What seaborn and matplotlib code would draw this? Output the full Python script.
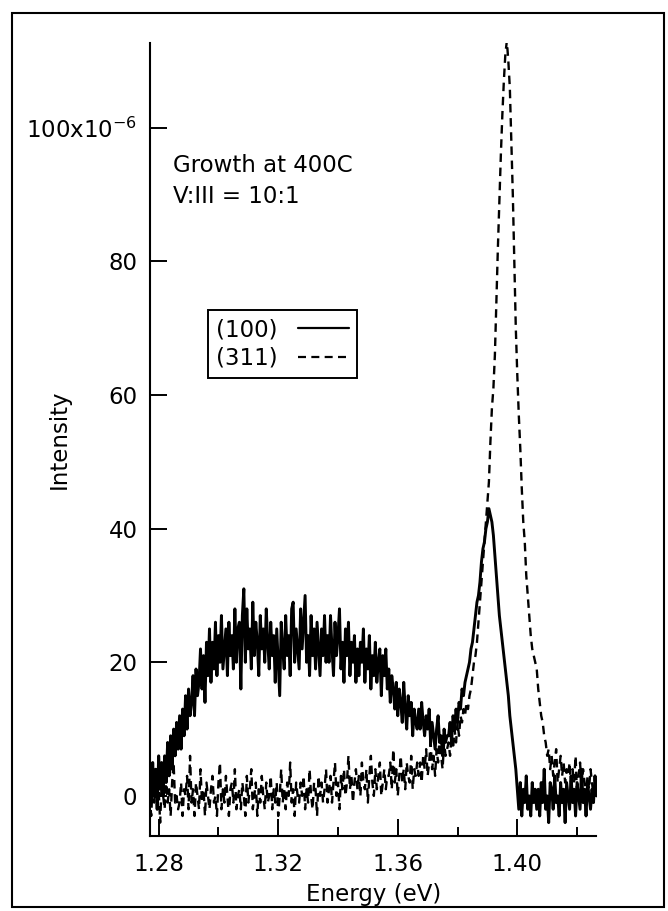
import numpy as np
import matplotlib
matplotlib.use("Agg")
import matplotlib.pyplot as plt
from matplotlib.patches import Rectangle
import seaborn as sns

# Photoluminescence spectra, intensity in units of 1e-6
# energy channels: 1.2770 eV to 1.4265 eV in 0.5 meV steps (300 channels)
energy = np.round(1.2770 + 0.0005 * np.arange(300), 4)

# (100) substrate, solid line (20 channels per row, 10 meV per row)
intensity_100 = [
    3, -1, 5, 0, 4, -2, 6, 1, 5, 0, 6, 2, 8, 3, 9, 4, 10, 6, 11, 7,
    12, 7, 13, 9, 15, 10, 16, 12, 14, 18, 12, 19, 15, 17, 22, 16, 21, 14, 23, 18,
    25, 17, 23, 19, 26, 18, 24, 20, 27, 19, 22, 25, 18, 26, 21, 24, 19, 28, 20, 25,
    26, 16, 27, 31, 20, 28, 22, 25, 19, 29, 21, 26, 23, 18, 27, 22, 25, 20, 28, 23,
    19, 26, 21, 24, 17, 25, 20, 15, 26, 22, 19, 27, 21, 24, 18, 28, 29, 20, 25, 22,
    19, 28, 22, 26, 30, 20, 24, 18, 27, 21, 25, 19, 26, 22, 18, 25, 21, 27, 20, 24,
    20, 27, 22, 18, 26, 21, 24, 28, 19, 23, 17, 25, 21, 26, 18, 23, 20, 24, 17, 22,
    18, 23, 20, 25, 17, 22, 19, 24, 16, 21, 18, 23, 17, 20, 22, 15, 21, 18, 22, 16,
    19, 14, 18, 16, 13, 17, 12, 16, 14, 11, 17, 13, 10, 15, 12, 14, 9, 13, 11, 10,
    13, 10, 14, 11, 9, 12, 10, 13, 8, 11, 9, 7, 10, 12, 8, 9, 6, 10, 8, 9,
    9, 11, 8, 12, 10, 13, 11, 14, 13, 16, 15, 17, 18, 19, 20, 22, 23, 25, 27, 29,
    30, 32, 35, 37, 38, 40, 41, 43, 42, 41, 39, 36, 33, 30, 27, 25, 23, 21, 19, 17,
    15, 12, 10, 8, 6, 4, 1, -2, 2, -3, 1, -1, 3, -2, 0, -3, 2, -1, 1, -2,
    1, -3, 2, -1, 4, -2, 0, -4, 2, 1, -2, 3, -1, 0, -3, 2, -1, 1, -4, 2,
    0, -2, 3, -1, 1, -3, 2, 0, -2, 4, -1, 1, -3, 2, 0, -2, 1, -1, 3, 0,
]

# (311) substrate, dashed line
intensity_311 = [
    0, -3, 2, -1, 4, -2, 1, -4, 2, 0, -2, 3, -1, 1, -3, 2, 5, -1, 0, -2,
    -1, 2, -3, 1, 0, 3, -2, 6, -1, 1, -3, 2, 0, -2, 4, -1, 1, -3, 2, 0,
    -2, 1, 3, -1, 0, -3, 2, 5, -2, 1, -1, 3, 0, -3, 1, 2, -1, 4, -2, 0,
    1, -2, 2, 0, -3, 3, -1, 1, 4, -2, 0, 2, -3, 1, -1, 3, 0, -2, 2, -1,
    0, 3, -2, 1, -1, 2, -3, 0, 4, -1, 1, -2, 2, 0, 5, -1, 1, -3, 2, 0,
    -1, 2, 0, 3, -2, 1, -1, 4, 0, -2, 2, 1, -3, 3, 0, 2, -1, 1, 4, -1,
    1, 3, -1, 2, 5, 0, 2, -2, 3, 1, 4, 0, 2, 6, 1, 3, -1, 2, 4, 1,
    3, 0, 5, 2, 1, 4, -1, 3, 6, 2, 0, 4, 1, 3, 5, 0, 2, 4, 1, 3,
    3, 5, 1, 7, 2, 4, 0, 3, 6, 2, 4, 1, 5, 3, 2, 6, 1, 4, 3, 5,
    3, 5, 2, 6, 4, 7, 3, 5, 8, 4, 6, 3, 7, 5, 9, 6, 4, 8, 6, 7,
    8, 6, 9, 7, 10, 8, 11, 9, 12, 11, 13, 12, 14, 13, 15, 16, 18, 20, 21, 23,
    26, 29, 32, 35, 38, 41, 44, 47, 53, 58, 61, 66, 74, 82, 89, 96, 102, 107, 111, 113,
    110, 106, 98, 90, 80, 70, 63, 57, 52, 46, 41, 38, 33, 30, 27, 24, 22, 21, 20, 19,
    16, 14, 12, 11, 9, 8, 6, 7, 4, 6, 3, 5, 7, 2, 4, 6, 3, 5, 2, 4,
    3, 5, 1, 4, 2, 6, 0, 3, 5, 1, 4, 2, 0, 3, 1, 4, 2, 0, 3, 1,
]

series_labels = ["(100)", "(311)"]
x_ticks = [1.28, 1.32, 1.36, 1.40]
x_minor_ticks = [1.30, 1.34, 1.38, 1.42]
x_tick_labels = ["1.28", "1.32", "1.36", "1.40"]
y_ticks = [0, 20, 40, 60, 80, 100]
y_tick_labels = ["0", "20", "40", "60", "80", r"100x10$^{-6}$"]
annotation = ["Growth at 400C", "V:III = 10:1"]

sns.set_style("ticks")
plt.rcParams["font.family"] = ["DejaVu Sans"]
plt.rcParams["mathtext.fontset"] = "dejavusans"
for key in ("text.color", "axes.labelcolor", "xtick.color", "ytick.color",
            "xtick.labelcolor", "ytick.labelcolor"):
    plt.rcParams[key] = "black"
FS = 16.5

W, H = 668, 911
fig = plt.figure(figsize=(W / 100, H / 100), dpi=100)
ax_left, ax_right, ax_top, ax_bottom = 150, 596.5, 43, 836
ax_w, ax_h = ax_right - ax_left, ax_bottom - ax_top
ax = fig.add_axes([ax_left / W, 1 - ax_bottom / H, ax_w / W, ax_h / H])

sns.lineplot(x=energy, y=intensity_311, ax=ax, color="black", lw=1.7,
             linestyle=(0, (3.6, 2.4)), estimator=None, sort=False)
sns.lineplot(x=energy, y=intensity_100, ax=ax, color="black", lw=2.1,
             estimator=None, sort=False)
line_311, line_100 = ax.lines[0], ax.lines[1]

ax.set_xlim(1.2771, 1.4265)
ax.set_ylim(-6.0, 112.7)

ax.set_xticks(x_ticks, labels=x_tick_labels)
ax.set_xticks(x_minor_ticks, minor=True)
ax.set_yticks(y_ticks, labels=y_tick_labels)
ax.tick_params(axis="both", which="major", direction="in", length=12,
               width=1.4, color="black", labelsize=FS, labelcolor="black")
ax.tick_params(axis="x", which="major", pad=12)
ax.tick_params(axis="y", which="major", pad=9)
ax.tick_params(axis="x", which="minor", direction="in", length=6.5, width=1.4)

sns.despine(ax=ax)
for side in ("left", "bottom"):
    ax.spines[side].set_linewidth(1.5)
    ax.spines[side].set_color("black")

ax.set_xlabel("Energy (eV)", fontsize=FS, labelpad=5)
ax.set_ylabel("Intensity", fontsize=FS)
ax.yaxis.set_label_coords((71 - ax_left) / ax_w, 0.5)

tx = (173 - ax_left) / ax_w
for line, base in zip(annotation, (172, 203)):
    ax.text(tx, (ax_bottom - base) / ax_h, line, transform=ax.transAxes,
            fontsize=FS, va="baseline", ha="left", color="black")

leg = ax.legend([line_100, line_311], series_labels, loc="upper left",
                bbox_to_anchor=((208 - ax_left) / ax_w, (ax_bottom - 310) / ax_h),
                borderaxespad=0, frameon=True, fancybox=False,
                edgecolor="black", framealpha=1, fontsize=FS,
                markerfirst=False, handlelength=2.2, handletextpad=0.9,
                labelspacing=0.25, borderpad=0.35)
leg.get_frame().set_linewidth(1.4)
for text in leg.get_texts():
    text.set_color("black")
for handle in leg.legend_handles:
    handle.set_linewidth(1.6)

# border around the whole figure
fig.patches.append(Rectangle((12 / W, 1 - 907 / H), (664 - 12) / W, (907 - 13) / H,
                             transform=fig.transFigure, fill=False,
                             lw=1.5, ec="black"))

fig.savefig("out.png", dpi=100)
